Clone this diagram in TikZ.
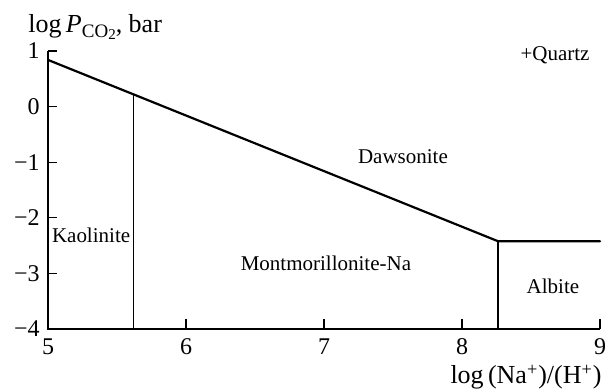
\documentclass[tikz,border=0pt]{standalone}
\usepackage{fontspec}
\setmainfont{Liberation Serif}
\begin{document}
\begin{tikzpicture}[x=69pt,y=27.8pt,
  axis/.style={line width=0.65pt},
  bound/.style={line width=1.1pt, line cap=round},
  vbound/.style={line width=0.7pt},
  region/.style={font=\fontsize{10.5}{12}\selectfont, inner sep=0pt},
  ticklab/.style={font=\fontsize{12}{14}\selectfont, inner sep=0pt},
  axlab/.style={font=\fontsize{13}{15}\selectfont, inner sep=0pt}]
\useasboundingbox (4.652,-5.129) rectangle (9.058,1.918);
% axes
\coordinate (o) at (5,-4);
\coordinate (ytop) at (5,1);
\coordinate (xend) at (9,-4);
\draw[axis] (ytop) -- (o) -- (xend);
\foreach \v in {1,0,-1,-2,-3}{
  \draw[axis] (5,\v) -- ++(4.5pt,0);
}
\foreach \u in {6,7,8,9}{
  \draw[axis] (\u,-4) -- ++(0,5pt);
}
% tick labels
\node[ticklab, anchor=east] (y1) at (4.942,1) {1};
\node[ticklab, anchor=east] (y0) at (4.942,0) {0};
\node[ticklab, anchor=east] (ym1) at (4.942,-1) {−1};
\node[ticklab, anchor=east] (ym2) at (4.942,-2) {−2};
\node[ticklab, anchor=east] (ym3) at (4.942,-3) {−3};
\node[ticklab, anchor=east] (ym4) at (4.942,-4) {−4};
\foreach \u in {5,6,7,8,9}{
  \node[ticklab, anchor=base] (x\u) at (\u,-4.463) {\u};
}
% axis labels
\node[axlab, anchor=base west] (ylab) at (4.855,1.325)
  {log\,\textit{P}\raisebox{-0.35ex}{\fontsize{9.5}{10}\selectfont CO\raisebox{-0.3ex}{\fontsize{7.5}{8}\selectfont 2}}, bar};
\node[axlab, anchor=base east] (xlab) at (9.014,-4.985)
  {log\,(Na\textsuperscript{+})/(H\textsuperscript{+})};
% boundaries
\coordinate (a) at (5,0.84);
\coordinate (b) at (5.62,0.22);
\coordinate (bb) at (5.62,-4);
\coordinate (k) at (8.26,-2.42);
\coordinate (kb) at (8.26,-4);
\coordinate (e) at (9,-2.42);
\draw[bound] (a) -- (b) -- (k) -- (e);
\draw[vbound] (b) -- (bb);
\draw[vbound] (k) -- (kb);
% regions
\node[region] (quartz) at (8.674,0.93) {+Quartz};
\node[region] (daw) at (7.572,-0.904) {Dawsonite};
\node[region] (mont) at (7.014,-2.81) {Montmorillonite-Na};
\node[region] (kao) at (5.312,-2.31) {Kaolinite};
\node[region] (alb) at (8.659,-3.24) {Albite};
\end{tikzpicture}
\end{document}
